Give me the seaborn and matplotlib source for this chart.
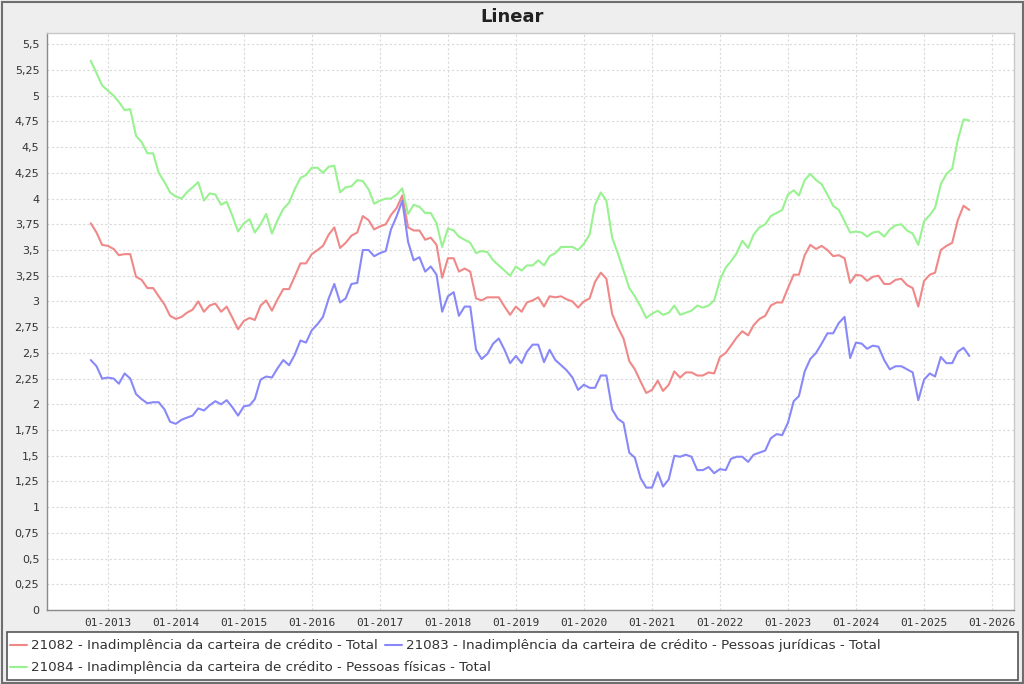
import numpy as np
import pandas as pd
import matplotlib
matplotlib.use('Agg')
import matplotlib.pyplot as plt
import matplotlib.dates as mdates
from matplotlib.lines import Line2D
from matplotlib.patches import Rectangle
from matplotlib.ticker import FuncFormatter, MultipleLocator
import seaborn as sns

# ---------------- data ----------------
start_month = '2012-10-01'
end_month = '2025-09-01'

total = [3.76, 3.67, 3.55, 3.54, 3.51, 3.45, 3.46, 3.46, 3.24, 3.21, 3.13, 3.13, 3.05, 2.97, 2.86, 2.83, 2.85, 2.89, 2.92, 3.00, 2.90, 2.96, 2.98, 2.90, 2.95, 2.84, 2.73, 2.81, 2.84,
         2.82, 2.96, 3.01, 2.91, 3.02, 3.12, 3.12, 3.24, 3.37, 3.37, 3.46, 3.50, 3.54, 3.65, 3.72, 3.52, 3.57, 3.64, 3.67, 3.83, 3.79, 3.70, 3.73, 3.75, 3.84, 3.91, 4.03,
         3.72, 3.69, 3.69, 3.60, 3.62, 3.55, 3.23, 3.42, 3.42, 3.29, 3.32, 3.29, 3.03, 3.01, 3.04, 3.04, 3.04, 2.95, 2.87, 2.95, 2.90, 2.99, 3.01, 3.04, 2.95, 3.05, 3.04, 3.05, 3.02,
         3.00, 2.94, 3.00, 3.03, 3.19, 3.28, 3.22, 2.88, 2.75, 2.64, 2.42, 2.34, 2.22, 2.11, 2.14, 2.23, 2.13, 2.19, 2.32, 2.26, 2.31, 2.31, 2.28, 2.28, 2.31, 2.30, 2.46,
         2.50, 2.57, 2.65, 2.71, 2.67, 2.77, 2.83, 2.86, 2.96, 2.99, 2.99, 3.13, 3.26, 3.26, 3.45, 3.55, 3.51, 3.54, 3.50, 3.44, 3.45, 3.42, 3.18, 3.26, 3.25, 3.20, 3.24, 3.25,
         3.17, 3.17, 3.21, 3.22, 3.16, 3.13, 2.95, 3.20, 3.26, 3.28, 3.50, 3.54, 3.57, 3.79, 3.93, 3.89]

pj = [2.43, 2.37, 2.25, 2.26, 2.25, 2.20, 2.30, 2.25, 2.10, 2.05, 2.01, 2.02, 2.02, 1.95, 1.83, 1.81, 1.85, 1.87, 1.89, 1.96, 1.94, 1.99, 2.03, 2.00, 2.04, 1.97, 1.89, 1.98, 1.99,
      2.05, 2.24, 2.27, 2.26, 2.35, 2.43, 2.38, 2.48, 2.62, 2.60, 2.72, 2.78, 2.85, 3.03, 3.17, 2.99, 3.03, 3.17, 3.18, 3.50, 3.50, 3.44, 3.47, 3.49, 3.70, 3.83, 3.98,
      3.58, 3.40, 3.43, 3.29, 3.34, 3.26, 2.90, 3.05, 3.09, 2.86, 2.95, 2.95, 2.53, 2.44, 2.49, 2.59, 2.64, 2.53, 2.40, 2.47, 2.40, 2.51, 2.58, 2.58, 2.41, 2.53, 2.43, 2.38, 2.33,
      2.26, 2.14, 2.19, 2.16, 2.16, 2.28, 2.28, 1.95, 1.86, 1.82, 1.53, 1.48, 1.28, 1.19, 1.19, 1.34, 1.20, 1.27, 1.50, 1.49, 1.51, 1.49, 1.36, 1.36, 1.39, 1.33, 1.37,
      1.36, 1.47, 1.49, 1.49, 1.44, 1.51, 1.53, 1.55, 1.67, 1.71, 1.70, 1.82, 2.03, 2.08, 2.32, 2.44, 2.50, 2.59, 2.69, 2.69, 2.79, 2.85, 2.45, 2.60, 2.59, 2.54, 2.57, 2.56,
      2.43, 2.34, 2.37, 2.37, 2.34, 2.31, 2.04, 2.24, 2.30, 2.27, 2.46, 2.40, 2.40, 2.51, 2.55, 2.47]

pf = [5.34, 5.22, 5.10, 5.05, 5.00, 4.94, 4.86, 4.87, 4.61, 4.55, 4.44, 4.44, 4.25, 4.16, 4.06, 4.02, 4.00, 4.06, 4.11, 4.16, 3.98, 4.05, 4.04, 3.94, 3.97, 3.83, 3.68, 3.76, 3.80,
      3.67, 3.75, 3.85, 3.66, 3.79, 3.90, 3.96, 4.09, 4.20, 4.23, 4.30, 4.30, 4.25, 4.31, 4.32, 4.06, 4.11, 4.12, 4.18, 4.17, 4.09, 3.95, 3.98, 4.00, 4.00, 4.04, 4.10,
      3.85, 3.94, 3.92, 3.86, 3.86, 3.76, 3.53, 3.71, 3.69, 3.63, 3.60, 3.57, 3.47, 3.49, 3.48, 3.40, 3.35, 3.30, 3.25, 3.34, 3.30, 3.35, 3.35, 3.40, 3.35, 3.44, 3.47, 3.53, 3.53,
      3.53, 3.50, 3.56, 3.65, 3.94, 4.06, 3.98, 3.62, 3.47, 3.30, 3.13, 3.05, 2.95, 2.84, 2.88, 2.91, 2.87, 2.89, 2.96, 2.87, 2.89, 2.91, 2.96, 2.94, 2.96, 3.01, 3.21,
      3.33, 3.39, 3.47, 3.59, 3.52, 3.65, 3.72, 3.75, 3.83, 3.86, 3.89, 4.04, 4.08, 4.03, 4.18, 4.24, 4.18, 4.14, 4.04, 3.93, 3.89, 3.78, 3.67, 3.68, 3.67, 3.63, 3.67, 3.68,
      3.63, 3.70, 3.74, 3.75, 3.69, 3.66, 3.55, 3.78, 3.84, 3.91, 4.14, 4.24, 4.29, 4.57, 4.77, 4.76]

series_labels = [
    '21082 - Inadimplência da carteira de crédito - Total',
    '21083 - Inadimplência da carteira de crédito - Pessoas jurídicas - Total',
    '21084 - Inadimplência da carteira de crédito - Pessoas físicas - Total',
]
series_colors = ['#F08888', '#8888F8', '#98F290']
title_text = 'Linear'

months = pd.date_range(start_month, end_month, freq='MS')
df = pd.DataFrame({
    'date': np.tile(months, 3),
    'value': total + pj + pf,
    'series': np.repeat(series_labels, len(months)),
})

# ---------------- figure ----------------
sns.set_theme(style='white')
plt.rcParams['font.family'] = ['DejaVu Sans']

W, H = 1024, 684
fig = plt.figure(figsize=(W / 100, H / 100), dpi=100, facecolor='#EEEEEE')

def px(x0, y0, x1, y1):
    return [x0 / W, 1 - y1 / H, (x1 - x0) / W, (y1 - y0) / H]

ax = fig.add_axes(px(47, 33, 1014, 610))
ax.set_facecolor('white')

sns.lineplot(data=df, x='date', y='value', hue='series', hue_order=series_labels,
             palette=series_colors, linewidth=1.5, legend=False, ax=ax)

ax.set_xlim(pd.Timestamp('2012-02-09'), pd.Timestamp('2026-04-29'))
ax.set_ylim(0, 5.61)
ax.set_xlabel('')
ax.set_ylabel('')

ax.xaxis.set_major_locator(mdates.YearLocator(1, month=1, day=1))
ax.xaxis.set_major_formatter(mdates.DateFormatter('%m-%Y'))
ax.yaxis.set_major_locator(MultipleLocator(0.25))

def fmt(v, pos):
    s = f'{v:.2f}'.rstrip('0').rstrip('.')
    return s.replace('.', ',')
ax.yaxis.set_major_formatter(FuncFormatter(fmt))

ax.set_axisbelow(True)
ax.grid(True, color='#DADADA', linestyle=(0, (2, 2)), linewidth=0.8)

ax.tick_params(axis='both', which='major', direction='out', length=2.5, width=0.8,
               color='#888888', labelcolor='#333333', pad=3)
for lab in ax.get_xticklabels():
    lab.set_fontfamily('DejaVu Sans Mono')
    lab.set_fontsize(8)
for lab in ax.get_yticklabels():
    lab.set_fontsize(8)

for side in ['left', 'bottom']:
    ax.spines[side].set_color('#8A8A8A')
    ax.spines[side].set_linewidth(1.0)
for side in ['top', 'right']:
    ax.spines[side].set_color('#C8C8C8')
    ax.spines[side].set_linewidth(1.0)

# title
fig.text(0.5, 1 - 17 / H, title_text, ha='center', va='center', fontsize=13,
         fontweight='bold', color='#222222')

# outer border
fig.add_artist(Rectangle((1.5 / W, 1.5 / H), 1 - 3 / W, 1 - 3 / H, transform=fig.transFigure,
                         fill=False, edgecolor='#6E6E6E', linewidth=1.5))

# legend box
fig.add_artist(Rectangle((7 / W, 1 - 680 / H), 1011 / W, 48 / H, transform=fig.transFigure,
                         facecolor='white', edgecolor='#555555', linewidth=1.2, zorder=1))

leg_fs = 9.7
def legend_entry(x_px, y_px, color, text):
    fig.add_artist(Line2D([x_px / W, (x_px + 17) / W], [1 - y_px / H, 1 - y_px / H],
                          transform=fig.transFigure, color=color, linewidth=1.5, zorder=2))
    t = fig.text((x_px + 21) / W, 1 - y_px / H, text, ha='left', va='center',
                 fontsize=leg_fs, color='#333333', zorder=3)
    return t

t1 = legend_entry(10, 645, series_colors[0], series_labels[0])
fig.canvas.draw()
bb = t1.get_window_extent(renderer=fig.canvas.get_renderer())
legend_entry(bb.x1 + 7, 645, series_colors[1], series_labels[1])
legend_entry(10, 667, series_colors[2], series_labels[2])

fig.savefig('out.png', dpi=100, facecolor=fig.get_facecolor())
